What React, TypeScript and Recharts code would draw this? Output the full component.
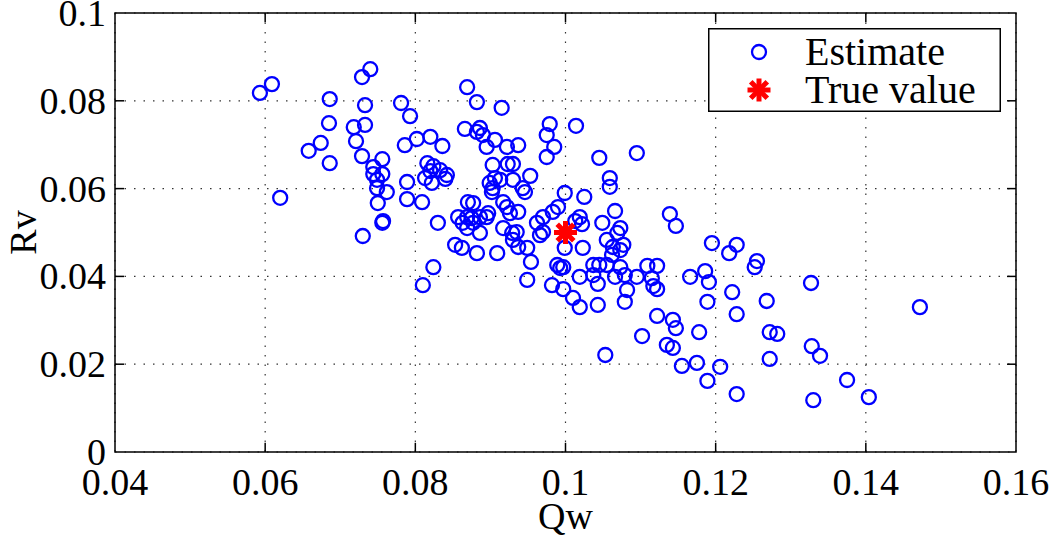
import {
  ScatterChart,
  Scatter,
  XAxis,
  YAxis,
  CartesianGrid,
  ReferenceLine,
  ReferenceArea,
} from 'recharts';

// Estimates (Qw, Rv)
const estimateQw = [
  0.0593, 0.0609, 0.062, 0.0658, 0.0674, 0.0686, 0.0685, 0.0686, 0.0729, 0.074,
  0.0733, 0.0718, 0.0733, 0.0721, 0.0729, 0.0744, 0.0756, 0.0744, 0.0756, 0.0749,
  0.0749, 0.0762, 0.075, 0.0756, 0.0757, 0.073,
  0.0781, 0.0793, 0.0786, 0.0802, 0.082, 0.0836, 0.0789, 0.0789, 0.0809, 0.0816,
  0.0824, 0.082, 0.0813, 0.0822, 0.0833, 0.084, 0.0842, 0.083, 0.0853, 0.0824,
  0.081, 0.0862,
  0.0869, 0.0882, 0.0915, 0.0866, 0.0886, 0.0882, 0.089, 0.0906, 0.0895, 0.0922,
  0.0937, 0.0903, 0.0923, 0.093, 0.0953, 0.0899, 0.0906, 0.0913, 0.0903, 0.0902,
  0.093, 0.0943, 0.0946, 0.0917, 0.0922, 0.0937, 0.0926, 0.087, 0.0877, 0.0857,
  0.0869, 0.0875, 0.0863, 0.0877, 0.0886, 0.0895, 0.0897, 0.0869, 0.0886, 0.0917,
  0.0929, 0.0935, 0.093, 0.0937, 0.0949, 0.0909, 0.0882, 0.0954, 0.0949,
  0.0979, 0.0975, 0.0985, 0.0975, 0.1014, 0.1045, 0.1059, 0.1059, 0.0962, 0.097,
  0.0983, 0.099, 0.0999, 0.1025, 0.0966, 0.097, 0.1013, 0.1019, 0.1022, 0.0999,
  0.1023, 0.1049, 0.1066, 0.1055, 0.1069, 0.1073, 0.1063, 0.1077, 0.1073, 0.1062,
  0.0989, 0.0997, 0.0993, 0.0982, 0.0997, 0.101, 0.1019, 0.1019, 0.1037, 0.1045,
  0.1037, 0.1043, 0.1043, 0.1053, 0.1055, 0.1066, 0.1073, 0.1079, 0.1095,
  0.1139, 0.1147, 0.1095, 0.1109, 0.1122, 0.1115, 0.1117, 0.1122, 0.1082, 0.1079,
  0.1166, 0.1186, 0.1191, 0.1189, 0.1195, 0.1122, 0.1143, 0.1147, 0.1102, 0.1135,
  0.1143, 0.1178, 0.1155, 0.1175, 0.1206, 0.1189,
  0.1218, 0.1228, 0.1255, 0.1252, 0.1222, 0.1228, 0.1268, 0.1327, 0.1272, 0.1282,
  0.1272, 0.1228, 0.1328, 0.1339, 0.1375, 0.133, 0.1404, 0.1472,
];

const estimateRv = [
  0.0818, 0.0838, 0.0579, 0.0686, 0.0704, 0.0804, 0.0749, 0.0658, 0.0854, 0.0872,
  0.079, 0.074, 0.0745, 0.0708, 0.0674, 0.0649, 0.0667, 0.0633, 0.0633, 0.062,
  0.0601, 0.0592, 0.0567, 0.0522, 0.0526, 0.0492,
  0.0795, 0.0765, 0.0699, 0.0713, 0.0718, 0.0697, 0.0615, 0.0576, 0.0569, 0.0658,
  0.0651, 0.064, 0.0624, 0.0613, 0.0642, 0.0622, 0.0631, 0.0522, 0.0472, 0.0421,
  0.038, 0.0465,
  0.0831, 0.0797, 0.0784, 0.0736, 0.0738, 0.0729, 0.0722, 0.0711, 0.0695, 0.0695,
  0.0699, 0.0654, 0.0656, 0.0656, 0.0629, 0.0613, 0.0624, 0.062, 0.0601, 0.0592,
  0.062, 0.0601, 0.0592, 0.0569, 0.0558, 0.0547, 0.0544, 0.0569, 0.0567, 0.0535,
  0.0535, 0.0533, 0.0522, 0.0522, 0.0535, 0.0535, 0.0544, 0.051, 0.0499, 0.051,
  0.0499, 0.0501, 0.0483, 0.0467, 0.0465, 0.0453, 0.0453, 0.0433, 0.0392,
  0.0747, 0.0722, 0.0695, 0.0672, 0.0743, 0.067, 0.0624, 0.0604, 0.0522, 0.0535,
  0.0547, 0.0558, 0.059, 0.0581, 0.0494, 0.0501, 0.0526, 0.0535, 0.0519, 0.0465,
  0.0465, 0.0522, 0.0549, 0.0483, 0.0499, 0.051, 0.0467, 0.0472, 0.046, 0.0449,
  0.0426, 0.0421, 0.0419, 0.038, 0.0371, 0.0351, 0.033, 0.0399, 0.0426, 0.0426,
  0.0403, 0.0383, 0.0335, 0.0221, 0.0426, 0.0399, 0.0421, 0.0403, 0.0681,
  0.0542, 0.0515, 0.0399, 0.0424, 0.0424, 0.0396, 0.0378, 0.0371, 0.0369, 0.0342,
  0.0399, 0.0412, 0.0387, 0.0342, 0.0476, 0.031, 0.0301, 0.0282, 0.0264, 0.0244,
  0.0237, 0.0273, 0.0196, 0.0203, 0.0194, 0.0162,
  0.0453, 0.0472, 0.0435, 0.0421, 0.0364, 0.0314, 0.0344, 0.0385, 0.0273, 0.0269,
  0.0212, 0.0132, 0.0241, 0.0219, 0.0164, 0.0118, 0.0125, 0.033,
];

const trueQw = [0.1];
const trueRv = [0.05];

const xTicks = [0.04, 0.06, 0.08, 0.1, 0.12, 0.14, 0.16];
const xTickLabels = ['0.04', '0.06', '0.08', '0.1', '0.12', '0.14', '0.16'];
const yTicks = [0, 0.02, 0.04, 0.06, 0.08, 0.1];
const yTickLabels = ['0', '0.02', '0.04', '0.06', '0.08', '0.1'];

const estimates = estimateQw.map((q, i) => ({ qw: q, rv: estimateRv[i] }));
const truth = trueQw.map((q, i) => ({ qw: q, rv: trueRv[i] }));

const FONT = "'Liberation Serif', 'Times New Roman', Times, 'DejaVu Serif', serif";
const textStyle = { fontFamily: FONT };

const Ring = (props: any) => (
  <circle cx={props.cx} cy={props.cy} r={7} fill="none" stroke="#0000ff" strokeWidth={2.3} />
);

const Star = (props: any) => {
  const { cx, cy } = props;
  const s = 11.5;
  const d = s * 0.72;
  return (
    <g stroke="#ff0000" strokeWidth={5} strokeLinecap="butt">
      <line x1={cx - s} y1={cy} x2={cx + s} y2={cy} />
      <line x1={cx} y1={cy - s} x2={cx} y2={cy + s} />
      <line x1={cx - d} y1={cy - d} x2={cx + d} y2={cy + d} />
      <line x1={cx - d} y1={cy + d} x2={cx + d} y2={cy - d} />
    </g>
  );
};

const XTick = (props: any) => {
  const i = xTicks.indexOf(props.payload.value);
  return (
    <text x={props.x} y={props.y + 43} textAnchor="middle" style={textStyle} fontSize={38} fill="#000">
      {xTickLabels[i]}
    </text>
  );
};

const YTick = (props: any) => {
  const i = yTicks.indexOf(props.payload.value);
  return (
    <text x={props.x - 9} y={props.y + 13} textAnchor="end" style={textStyle} fontSize={38} fill="#000">
      {yTickLabels[i]}
    </text>
  );
};

// legend box drawn over the chart, top-right inside the axes
const LegendBox = () => (
  <svg
    width={293}
    height={84}
    style={{ position: 'absolute', left: 708, top: 28, display: 'block' }}
  >
    <rect x={0.75} y={0.75} width={291.5} height={82.5} fill="#fff" stroke="#000" strokeWidth={1.5} />
    <Ring cx={51} cy={24} />
    <Star cx={51} cy={62} />
    <text x={97} y={37} style={textStyle} fontSize={40} fill="#000">Estimate</text>
    <text x={97} y={75} style={textStyle} fontSize={40} fill="#000">True value</text>
  </svg>
);

export default function App() {
  return (
    <div style={{ position: 'absolute', left: 0, top: 0, width: 1050, height: 540, background: '#fff' }}>
      <ScatterChart width={1050} height={540} margin={{ top: 13, right: 34, left: 0, bottom: 0 }}>
        <CartesianGrid stroke="#333" strokeDasharray="1.5 8" strokeWidth={1.2} />
        <XAxis
          type="number"
          dataKey="qw"
          domain={[0.04, 0.16]}
          ticks={xTicks}
          height={88}
          axisLine={false}
          tickLine={false}
          tickSize={0}
          tickMargin={0}
          tick={<XTick />}
          label={{
            content: (p: any) => {
              const vb = p.viewBox;
              return (
                <text x={vb.x + vb.width / 2} y={vb.y + 77} textAnchor="middle" style={textStyle} fontSize={38} fill="#000">
                  Qw
                </text>
              );
            },
          }}
        />
        <YAxis
          type="number"
          dataKey="rv"
          domain={[0, 0.1]}
          ticks={yTicks}
          width={115}
          axisLine={false}
          tickLine={false}
          tickSize={0}
          tickMargin={0}
          tick={<YTick />}
          label={{
            content: (p: any) => {
              const vb = p.viewBox;
              const cx = vb.x + 36;
              const cy = vb.y + vb.height / 2;
              return (
                <text x={cx} y={cy} textAnchor="middle" transform={`rotate(-90 ${cx} ${cy})`} style={textStyle} fontSize={38} fill="#000">
                  Rv
                </text>
              );
            },
          }}
        />
        <Scatter name="Estimate" data={estimates} shape={<Ring />} isAnimationActive={false} />
        <Scatter name="True value" data={truth} shape={<Star />} isAnimationActive={false} />
        {xTicks.slice(1, -1).map((t) => (
          <ReferenceLine key={`xb${t}`} segment={[{ x: t, y: 0 }, { x: t, y: 0.0021 }]} stroke="#000" strokeWidth={1.5} />
        ))}
        {xTicks.slice(1, -1).map((t) => (
          <ReferenceLine key={`xt${t}`} segment={[{ x: t, y: 0.1 }, { x: t, y: 0.0979 }]} stroke="#000" strokeWidth={1.5} />
        ))}
        {yTicks.slice(1, -1).map((t) => (
          <ReferenceLine key={`yl${t}`} segment={[{ x: 0.04, y: t }, { x: 0.0412, y: t }]} stroke="#000" strokeWidth={1.5} />
        ))}
        {yTicks.slice(1, -1).map((t) => (
          <ReferenceLine key={`yr${t}`} segment={[{ x: 0.16, y: t }, { x: 0.1588, y: t }]} stroke="#000" strokeWidth={1.5} />
        ))}
        <ReferenceArea x1={0.04} x2={0.16} y1={0} y2={0.1} fill="none" fillOpacity={0} stroke="#000" strokeWidth={1.5} />
      </ScatterChart>
      <LegendBox />
    </div>
  );
}
